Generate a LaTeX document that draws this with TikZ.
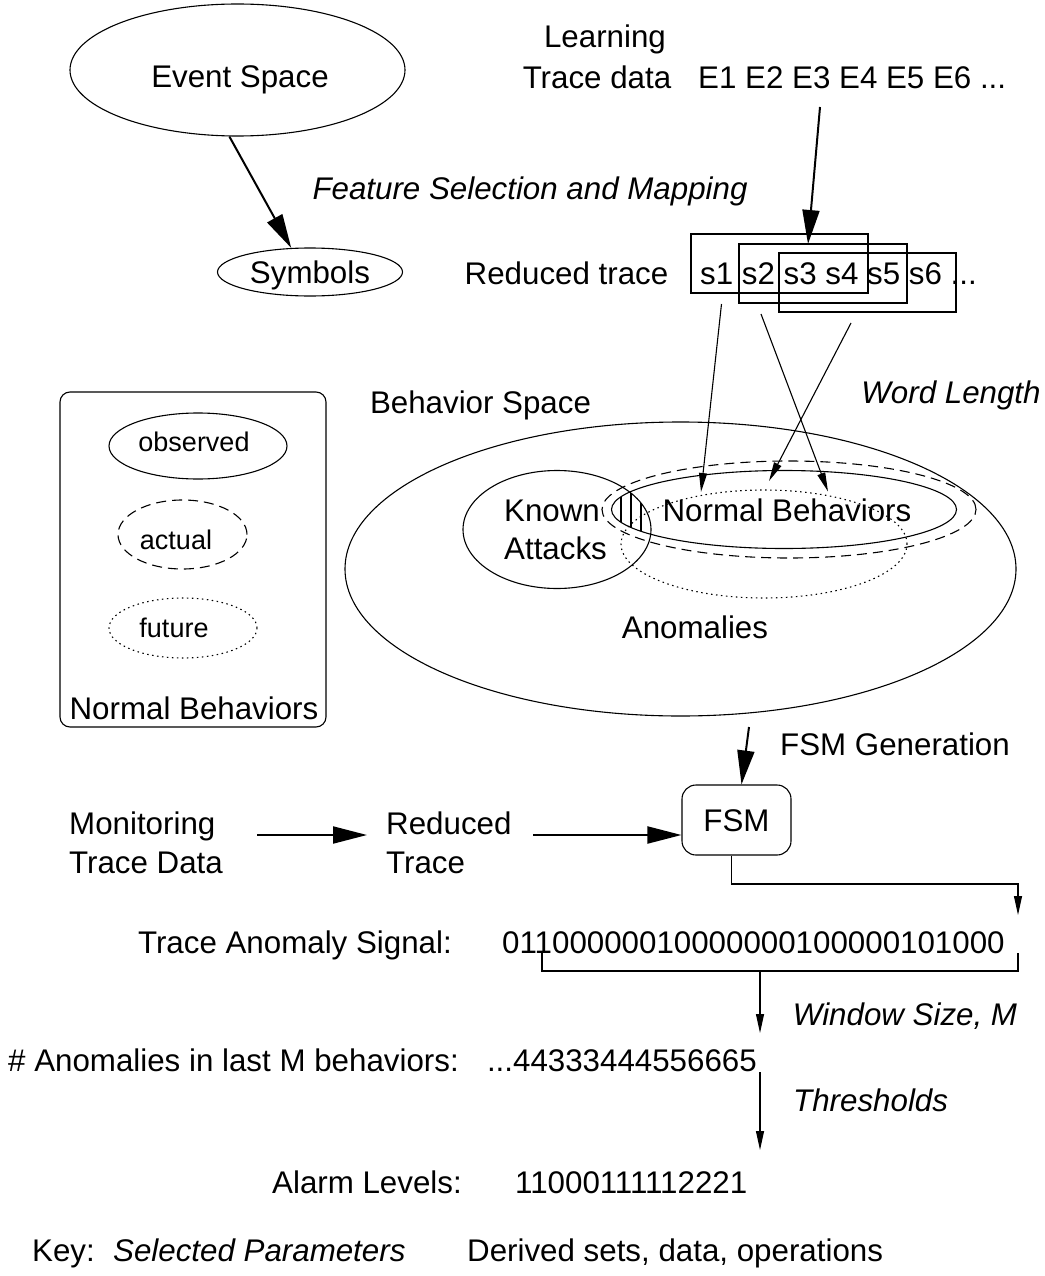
\documentclass[tikz,border=0pt]{standalone}
\usepackage{fontspec}
\setmainfont{Liberation Sans}
\usetikzlibrary{shapes.geometric,arrows.meta,calc}
\begin{document}
\begin{tikzpicture}[x=1pt,y=-1pt,
 lb/.style={inner sep=0pt, font=\fontsize{31.3}{36}\selectfont, text height=22.4pt, text depth=0pt},
 lbi/.style={lb, font=\fontsize{31.3}{36}\selectfont\itshape},
 lbs/.style={inner sep=0pt, font=\fontsize{27}{32}\selectfont, text height=19.3pt, text depth=0pt},
 oval/.style={ellipse, draw, line width=1.1pt, inner sep=0pt},
 sq/.style={draw, line width=1.1pt, inner sep=0pt},
 big/.style={line width=2pt, -{Triangle[length=34pt,width=17pt]}},
 sa/.style={line width=1.1pt, -{Triangle[length=19pt,width=8pt]}},
 ln/.style={line width=1.1pt},
 dsh/.style={dash pattern=on 10pt off 6pt},
 dtt/.style={dash pattern=on 1.5pt off 3.5pt},
]
\useasboundingbox (0,0) rectangle (1044,1276);

% ---------- top: event space and trace data
\node[oval, minimum width=335pt, minimum height=132pt] (ev) at (237.5,70) {};
\node[lb] (evT) at (240,76) {Event Space};
\node[lb] (learn) at (605,36) {Learning};
\node[lb] (trd) at (597,77) {Trace data};
\node[lb, anchor=west] (evs) at (698,77) {E1 E2 E3 E4 E5 E6 ...};
\node[lbi] (fsel) at (530,188) {Feature Selection and Mapping};
\node[oval, minimum width=185pt, minimum height=48pt] (sym) at (310,272) {};
\node[lb] (symT) at (310,272) {Symbols};
\node[lb] (redT) at (566.5,273) {Reduced trace};
\node[lb, anchor=west] (seq) at (700,273) {s1 s2 s3 s4 s5 s6 ...};
\node[sq, minimum width=177pt, minimum height=59pt] (b1) at (779.5,263.5) {};
\node[sq, minimum width=168pt, minimum height=59pt] (b2) at (823,273.5) {};
\node[sq, minimum width=177pt, minimum height=59pt] (b3) at (867.5,282.5) {};

\draw[big] (ev.-97) -- (sym.128);
\coordinate (e3) at (820,107);
\coordinate (e3t) at (808,244);
\draw[big] (e3) -- (e3t);

% ---------- behavior space
\node[lb] (bsT) at (480.5,402) {Behavior Space};
\node[lbi] (wlT) at (951,392) {Word Length};
\node[oval, minimum width=671pt, minimum height=294pt] (bs) at (680.5,569) {};
\node[oval, minimum width=188pt, minimum height=118pt] (ka) at (557,529.5) {};
\node[oval, dsh, minimum width=374pt, minimum height=97pt] (nbd) at (789,509.5) {};
\node[oval, minimum width=345pt, minimum height=78pt] (nb) at (784,509.5) {};
\node[oval, dtt, minimum width=286pt, minimum height=108pt] (nbf) at (764,544) {};
\begin{scope}
\clip (ka.center) ellipse [x radius=94pt, y radius=59pt];
\clip (nb.center) ellipse [x radius=172.5pt, y radius=39pt];
\foreach \hx in {621,631,641} \draw[ln] (\hx,470) -- (\hx,570);
\end{scope}
\node[lb, anchor=west] (kaT1) at (504,510) {Known};
\node[lb, anchor=west] (kaT2) at (504,548) {Attacks};
\node[lb] (nbT) at (787,510) {Normal Behaviors};
\node[lb] (anT) at (695,627) {Anomalies};

\coordinate (a1s) at (721.5,304);
\coordinate (a2s) at (761,314);
\coordinate (a3s) at (851,323);
\coordinate (a1e) at (701,492);
\coordinate (a2e) at (828,491.5);
\coordinate (a3e) at (769,481);
\draw[sa] (a1s) -- (a1e);
\draw[sa] (a2s) -- (a2e);
\draw[sa] (a3s) -- (a3e);

% ---------- legend
\node[sq, rounded corners=10pt, minimum width=266pt, minimum height=335pt] (leg) at (193,559.5) {};
\node[oval, minimum width=178pt, minimum height=66pt] (obs) at (198,446) {};
\node[lbs] (obsT) at (194,442) {observed};
\node[oval, dsh, minimum width=129pt, minimum height=69pt] (act) at (182.5,534.5) {};
\node[lbs] (actT) at (176,540) {actual};
\node[oval, dtt, minimum width=148pt, minimum height=60pt] (fut) at (183,628) {};
\node[lbs] (futT) at (174,628) {future};
\node[lb] (legT) at (194,708) {Normal Behaviors};

% ---------- FSM
\node[lb] (fgT) at (895,744) {FSM Generation};
\coordinate (fg) at (749,727);
\node[sq, rounded corners=14pt, minimum width=109pt, minimum height=70pt, lb] (fsm) at (736.5,820) {FSM};
\draw[big] (fg) -- (fsm.82);

\node[lb, anchor=west] (mon1) at (69,823) {Monitoring};
\node[lb, anchor=west] (mon2) at (69,862) {Trace Data};
\node[lb, anchor=west] (rd1) at (386,823) {Reduced};
\node[lb, anchor=west] (rd2) at (386,862) {Trace};
\coordinate (m1) at (257,835);
\coordinate (m2) at (367,835);
\draw[big] (m1) -- (m2);
\coordinate (r1) at (533,835);
\draw[big] (r1) -- (r1 -| fsm.west);

\coordinate (oc) at (1018,884);
\coordinate (ot) at (1018,915);
\draw[sa] (fsm.-98) |- (oc) -- (ot);

% ---------- signals
\node[lb, anchor=east] (tasT) at (452,942) {Trace Anomaly Signal:};
\node[lb, anchor=west] (bits) at (502,942) {01100000010000000100000101000};
\coordinate (bl) at (542,953);
\coordinate (br) at (1018,953);
\coordinate (bm) at (760,971);
\draw[ln] (bl) |- (bm) -| (br);
\coordinate (wt) at (760,1033);
\draw[sa] (bm) -- (wt);
\node[lbi] (wsT) at (905,1014) {Window Size, M};
\node[lb, anchor=west] (anm) at (8,1060) {\# Anomalies in last M behaviors:};
\node[lb, anchor=east] (anv) at (757,1060) {...44333444556665};
\coordinate (t1) at (760,1072);
\coordinate (t2) at (760,1150);
\draw[sa] (t1) -- (t2);
\node[lbi, anchor=west] (thT) at (793,1100) {Thresholds};
\node[lb, anchor=east] (alT) at (462,1182) {Alarm Levels:};
\node[lb, anchor=west] (alV) at (515,1182) {11000111112221};

% ---------- key
\node[lb, anchor=west] (key) at (32,1250) {Key:};
\node[lbi, anchor=west] (keyP) at (113,1250) {Selected Parameters};
\node[lb, anchor=west] (keyD) at (467,1250) {Derived sets, data, operations};
\end{tikzpicture}
\end{document}
